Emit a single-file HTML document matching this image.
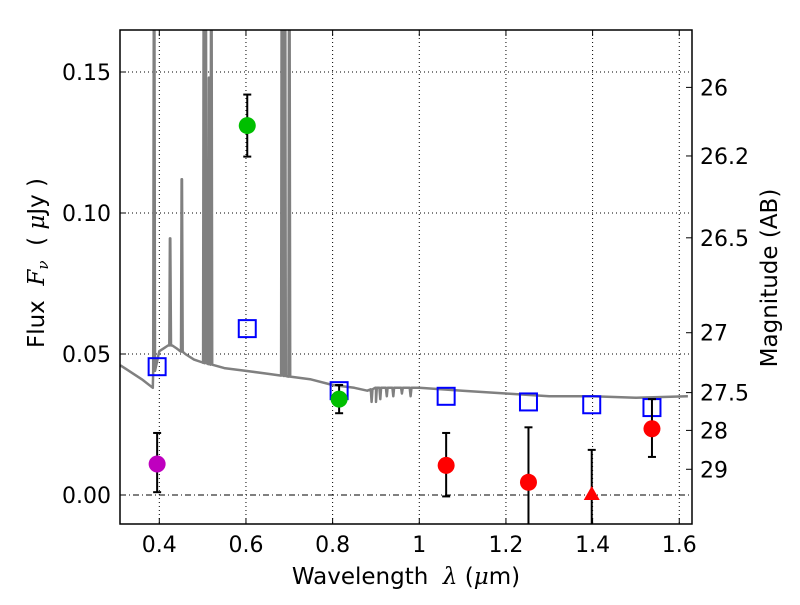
<!DOCTYPE html>
<html><head><meta charset="utf-8"><style>
body{margin:0;background:#fff;width:800px;height:600px;overflow:hidden}
svg text{font-family:"DejaVu Sans","Liberation Sans",sans-serif;fill:#000}
</style></head><body>
<svg id="chart" width="800" height="600" xmlns="http://www.w3.org/2000/svg"></svg>
<script>
const xTicks=[0.4,0.6,0.8,1,1.2,1.4,1.6];
const xTickLabels=["0.4","0.6","0.8","1","1.2","1.4","1.6"];
const yTicks=[0,0.05,0.10,0.15];
const yTickLabels=["0.00","0.05","0.10","0.15"];
const magTicks=[26,26.2,26.5,27,27.5,28,29];
const magTickLabels=["26","26.2","26.5","27","27.5","28","29"];
// photometry
const photWave=[0.395,0.603,0.815,1.062,1.252,1.398,1.537];
const photFlux=[0.011,0.131,0.034,0.0105,0.0045,0.0,0.0235];
const photErrLo=[0.001,0.120,0.029,-0.0005,-0.012,-0.012,0.0135];
const photErrHi=[0.022,0.142,0.039,0.022,0.024,0.016,0.034];
const photColor=["#bf00bf","#00bf00","#00bf00","#ff0000","#ff0000","#ff0000","#ff0000"];
const photShape=["o","o","o","o","o","^","o"];
// model photometry
const modelWave=[0.395,0.603,0.815,1.062,1.252,1.398,1.537];
const modelFlux=[0.0455,0.059,0.037,0.035,0.033,0.032,0.031];
// model spectrum continuum
const specWave=[0.31,0.33,0.36,0.385,0.39,0.40,0.41,0.42,0.43,0.44,0.46,0.48,0.50,0.55,0.60,0.65,0.70,0.75,0.80,0.85,0.88,0.90,0.95,1.0,1.1,1.2,1.3,1.4,1.5,1.62];
const specFlux=[0.046,0.044,0.041,0.038,0.048,0.051,0.052,0.053,0.053,0.052,0.050,0.048,0.047,0.045,0.044,0.043,0.042,0.041,0.039,0.038,0.037,0.038,0.038,0.038,0.037,0.036,0.035,0.035,0.0345,0.035];
// emission lines
const lineWave=[0.388,0.425,0.452,0.503,0.507,0.515,0.52,0.683,0.69,0.70];
const linePeak=[0.2,0.091,0.112,0.2,0.2,0.148,0.2,0.2,0.2,0.2];
// absorption features
const absWave=[0.89,0.90,0.91,0.925,0.94,0.96,0.98];
const absDepth=[0.033,0.033,0.034,0.035,0.035,0.036,0.035];

const L=120,R=692,T=30,B=524;
const X=w=>159.3+(w-0.4)*433.3;
const Y=f=>495-f*2820;
const magToFlux=m=>Math.pow(10,(23.9-m)/2.5);
const NS="http://www.w3.org/2000/svg";
const svg=document.getElementById('chart');
function mk(tag,attrs,parent){const e=document.createElementNS(NS,tag);for(const k in attrs)e.setAttribute(k,attrs[k]);(parent||svg).appendChild(e);return e;}
const defs=mk('defs',{});const cp=mk('clipPath',{id:'clip'},defs);mk('rect',{x:L,y:T,width:R-L,height:B-T},cp);
const plot=mk('g',{'clip-path':'url(#clip)'});

xTicks.forEach(v=>{const g=mk('line',{x1:X(v),x2:X(v),y1:T,y2:B,stroke:'#000','stroke-width':1,'stroke-dasharray':'1,3'},plot);

});
yTicks.forEach(v=>{const g=mk('line',{x1:L,x2:R,y1:Y(v),y2:Y(v),stroke:'#000','stroke-width':1,'stroke-dasharray':v===0?'6,3,1,3':'1,3'},plot);

});

let pts=specWave.map((w,i)=>[w,specFlux[i]]);
const interp=w=>{for(let i=0;i<specWave.length-1;i++){if(w>=specWave[i]&&w<=specWave[i+1]){const t=(w-specWave[i])/(specWave[i+1]-specWave[i]);return specFlux[i]+t*(specFlux[i+1]-specFlux[i]);}}return specFlux[specFlux.length-1];};
lineWave.forEach((w,i)=>{const c=interp(w);pts.push([w-0.002,c],[w-0.0005,linePeak[i]],[w+0.0005,linePeak[i]],[w+0.002,c]);});
absWave.forEach((w,i)=>{const c=interp(w);pts.push([w-0.002,c],[w,absDepth[i]],[w+0.002,c]);});
pts.sort((a,b)=>a[0]-b[0]);
const sp=mk('polyline',{points:pts.map(p=>X(p[0]).toFixed(1)+','+Y(p[1]).toFixed(1)).join(' '),fill:'none',stroke:'#808080','stroke-width':2.5,'stroke-linejoin':'round'},plot);



modelWave.forEach((w,i)=>{const r=mk('rect',{x:X(w)-8.5,y:Y(modelFlux[i])-8.5,width:17,height:17,fill:'none',stroke:'#0000ff','stroke-width':2},plot);

});

photWave.forEach((w,i)=>{const x=X(w);
mk('line',{x1:x,x2:x,y1:Y(photErrLo[i]),y2:Y(photErrHi[i]),stroke:'#000','stroke-width':2},plot);
[photErrLo[i],photErrHi[i]].forEach(v=>mk('line',{x1:x-4,x2:x+4,y1:Y(v),y2:Y(v),stroke:'#000','stroke-width':2},plot));
let m;
if(photShape[i]==='^'){const y=Y(photFlux[i]);m=mk('polygon',{points:`${x},${y-9} ${x-8},${y+5} ${x+8},${y+5}`,fill:photColor[i]},plot);}
else m=mk('circle',{cx:x,cy:Y(photFlux[i]),r:8.5,fill:photColor[i]},plot);

});

const fr=mk('rect',{x:L,y:T,width:R-L,height:B-T,fill:'none',stroke:'#000','stroke-width':1.5});



xTicks.forEach((v,i)=>{const x=X(v);mk('line',{x1:x,x2:x,y1:B,y2:B-6,stroke:'#000'});mk('line',{x1:x,x2:x,y1:T,y2:T+6,stroke:'#000'});
const t=mk('text',{x:x,y:B+28,'font-size':22,'text-anchor':'middle'});t.textContent=xTickLabels[i];

});
yTicks.forEach((v,i)=>{const y=Y(v);mk('line',{x1:L,x2:L+6,y1:y,y2:y,stroke:'#000'});
const t=mk('text',{x:111,y:y+8,'font-size':22,'text-anchor':'end'});t.textContent=yTickLabels[i];

});
magTicks.forEach((m,i)=>{const y=Y(magToFlux(m));mk('line',{x1:R,x2:R-6,y1:y,y2:y,stroke:'#000'});
const t=mk('text',{x:700,y:y+8,'font-size':22});t.textContent=magTickLabels[i];

});

const xt=mk('text',{x:406,y:584,'font-size':23,'text-anchor':'middle'});
xt.innerHTML='Wavelength&#160; <tspan font-style="italic" font-family="DejaVu Serif,serif">λ</tspan> (<tspan font-style="italic" font-family="DejaVu Serif,serif">μ</tspan>m)';


const yt=mk('text',{x:0,y:0,'font-size':23,'text-anchor':'middle',transform:'translate(44,263) rotate(-90)'});
yt.innerHTML='Flux&#160; <tspan font-style="italic" font-family="DejaVu Serif,serif">F<tspan font-size="15" dy="4">ν</tspan></tspan><tspan dy="-4">&#160; ( </tspan><tspan font-style="italic" font-family="DejaVu Serif,serif">μ</tspan>Jy )';


const rt=mk('text',{x:0,y:0,'font-size':23,'text-anchor':'middle',transform:'translate(777,278) rotate(-90)'});
rt.textContent='Magnitude (AB)';


</script>
</body></html>
